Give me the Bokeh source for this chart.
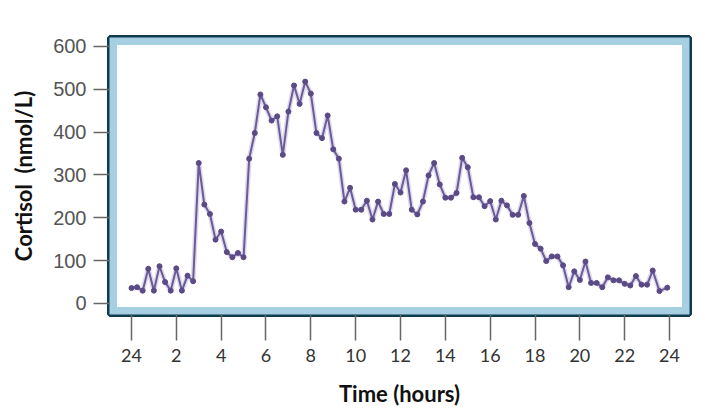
from bokeh.plotting import figure
from bokeh.models import Range1d, FixedTicker, BoxAnnotation
from bokeh.embed import file_html
from bokeh.resources import INLINE

hours = [0.0, 0.25, 0.5, 0.75, 1.0, 1.25, 1.5, 1.75, 2.0, 2.25, 2.5, 2.75,
         3.0, 3.25, 3.5, 3.75, 4.0, 4.25, 4.5, 4.75, 5.0, 5.25, 5.5, 5.75,
         6.0, 6.25, 6.5, 6.75, 7.0, 7.25, 7.5, 7.75, 8.0, 8.25, 8.5, 8.75,
         9.0, 9.25, 9.5, 9.75, 10.0, 10.25, 10.5, 10.75, 11.0, 11.25, 11.5, 11.75,
         12.0, 12.25, 12.5, 12.75, 13.0, 13.25, 13.5, 13.75, 14.0, 14.25, 14.5, 14.75,
         15.0, 15.25, 15.5, 15.75, 16.0, 16.25, 16.5, 16.75, 17.0, 17.25, 17.5, 17.75,
         18.0, 18.25, 18.5, 18.75, 19.0, 19.25, 19.5, 19.75, 20.0, 20.25, 20.5, 20.75,
         21.0, 21.25, 21.5, 21.75, 22.0, 22.25, 22.5, 22.75, 23.0, 23.25, 23.55, 23.9]
cortisol = [36, 38, 30, 81, 30, 87, 50, 30, 82, 30, 65, 52,
            328, 231, 209, 149, 168, 120, 108, 118, 108, 338, 398, 488,
            458, 427, 437, 347, 448, 509, 466, 518, 490, 398, 386, 439,
            360, 338, 238, 270, 219, 219, 240, 196, 238, 209, 209, 279,
            259, 311, 219, 208, 238, 299, 328, 278, 247, 247, 258, 340,
            318, 248, 248, 227, 239, 196, 240, 229, 207, 207, 251, 188,
            139, 128, 99, 110, 110, 89, 38, 75, 55, 98, 48, 48,
            38, 61, 54, 54, 46, 42, 64, 44, 44, 77, 29, 37]
x_ticks = [0, 2, 4, 6, 8, 10, 12, 14, 16, 18, 20, 22, 24]
x_labels = ["24", "2", "4", "6", "8", "10", "12", "14", "16", "18", "20", "22", "24"]
y_ticks = [0, 100, 200, 300, 400, 500, 600]

p = figure(width=705, height=410, output_backend="svg", toolbar_location=None,
           x_range=Range1d(-0.98, 24.89), y_range=Range1d(-25.7, 621),
           min_border_left=109, min_border_right=16, min_border_top=37,
           min_border_bottom=96)
p.grid.visible = False
p.background_fill_color = "white"
p.border_fill_color = "white"

band = BoxAnnotation(fill_color=None, fill_alpha=0, line_color="#a6cfe2",
                     line_alpha=1.0, line_width=15, level="underlay")
p.add_layout(band)
p.outline_line_color = "#0f3b50"
p.outline_line_width = 5
p.outline_line_alpha = 1.0

p.line(hours, cortisol, line_color="#d6d1ea", line_width=5, line_alpha=0.8)
p.line(hours, cortisol, line_color="#6c5b96", line_width=2)
p.scatter(hours, cortisol, size=5, color="#5b4a85")

xa = p.xaxis[0]
xa.ticker = FixedTicker(ticks=x_ticks)
xa.major_label_overrides = {t: l for t, l in zip(x_ticks, x_labels)}
xa.axis_line_color = None
xa.minor_tick_line_color = None
xa.major_tick_in = 0
xa.major_tick_out = 26
xa.major_tick_line_color = "#666666"
xa.major_tick_line_width = 1.5
xa.major_label_standoff = 8
xa.major_label_text_font = "Lato"
xa.major_label_text_font_size = "18px"
xa.major_label_text_color = "#333333"
xa.axis_label = "Time (hours)"
xa.axis_label_text_font = "Lato"
xa.axis_label_text_font_style = "bold"
xa.axis_label_text_font_size = "22px"
xa.axis_label_text_color = "#111111"
xa.axis_label_standoff = 15

ya = p.yaxis[0]
ya.ticker = FixedTicker(ticks=y_ticks)
ya.axis_line_color = None
ya.minor_tick_line_color = None
ya.major_tick_in = 0
ya.major_tick_out = 16
ya.major_tick_line_color = "#666666"
ya.major_tick_line_width = 1.5
ya.major_label_standoff = 7
ya.major_label_text_font = "Liberation Sans"
ya.major_label_text_font_size = "20px"
ya.major_label_text_color = "#555555"
ya.axis_label = "Cortisol\u00a0\u00a0(nmol/L)"
ya.axis_label_text_font = "Lato"
ya.axis_label_text_font_style = "bold"
ya.axis_label_text_font_size = "22px"
ya.axis_label_text_color = "#111111"
ya.axis_label_standoff = 13

open("out.html", "w").write(file_html(p, INLINE))
